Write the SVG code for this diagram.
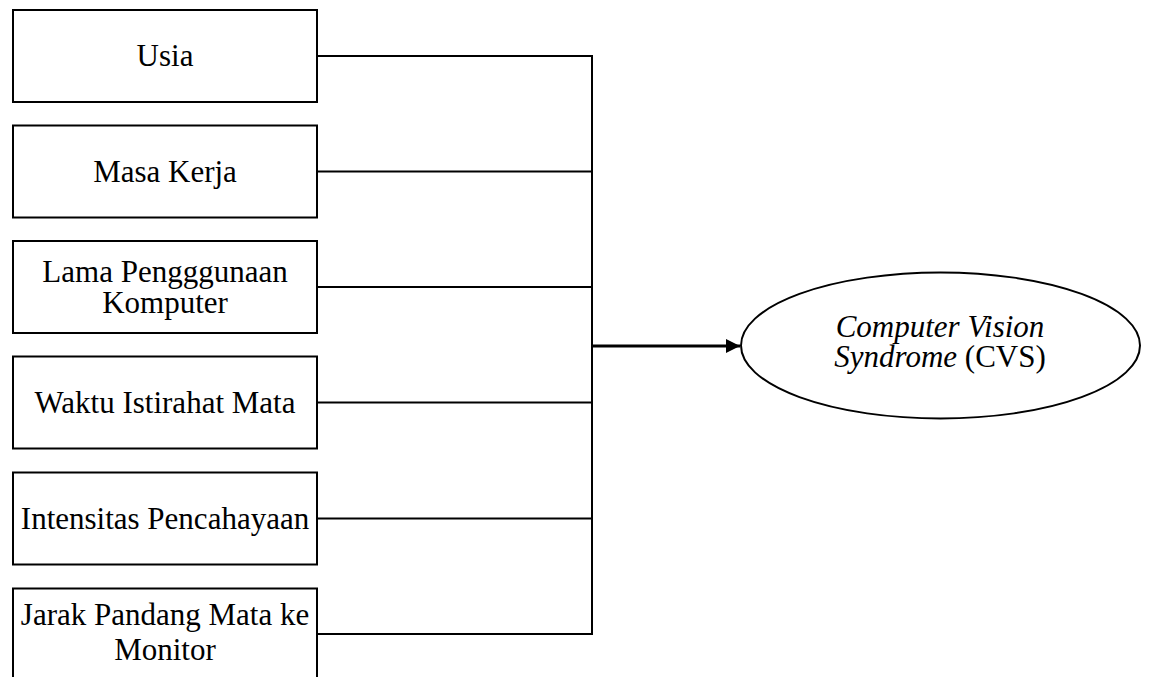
<svg xmlns="http://www.w3.org/2000/svg" width="1151" height="677" viewBox="0 0 1151 677">
<style>
.box{fill:#fff;stroke:#000;stroke-width:2}
.t{font-family:"Liberation Serif","Times New Roman",serif;font-size:31px;fill:#000;text-anchor:middle}
.c{fill:none;stroke:#000;stroke-width:2}
.a{fill:none;stroke:#000;stroke-width:3}
</style>
<defs>
<marker id="arr" viewBox="0 0 14 14" refX="14" refY="7" markerWidth="14" markerHeight="14" markerUnits="userSpaceOnUse" orient="auto">
<path d="M0,0 L14,7 L0,14 z" fill="#000"/>
</marker>
</defs>
<g id="connectors">
<path class="c" d="M317,56 H592 M317,171.5 H592 M317,287 H592 M317,402.5 H592 M317,518.5 H592 M317,634 H592 M592,55 V635"/>
<path class="a" d="M592,346 H740" marker-end="url(#arr)"/>
</g>
<g id="usia"><rect class="box" x="13" y="10" width="304" height="92"/><text class="t" x="165" y="66">Usia</text></g>
<g id="masa-kerja"><rect class="box" x="13" y="125.5" width="304" height="92"/><text class="t" x="165" y="181.5">Masa Kerja</text></g>
<g id="lama"><rect class="box" x="13" y="241" width="304" height="92"/><text class="t" x="165" y="281.5">Lama Pengggunaan</text><text class="t" x="165" y="313">Komputer</text></g>
<g id="waktu"><rect class="box" x="13" y="356.5" width="304" height="92"/><text class="t" x="165" y="412.5">Waktu Istirahat Mata</text></g>
<g id="intensitas"><rect class="box" x="13" y="472.5" width="304" height="92"/><text class="t" x="165" y="528.5">Intensitas Pencahayaan</text></g>
<g id="jarak"><rect class="box" x="13" y="588.5" width="304" height="92"/><text class="t" x="165" y="625">Jarak Pandang Mata ke</text><text class="t" x="165" y="660">Monitor</text></g>
<g id="cvs"><ellipse class="box" cx="940.5" cy="345.5" rx="199.5" ry="73"/><text class="t" x="940" y="336.5" font-style="italic">Computer Vision</text><text class="t" x="940" y="366.5"><tspan font-style="italic">Syndrome</tspan> (CVS)</text></g>
</svg>
